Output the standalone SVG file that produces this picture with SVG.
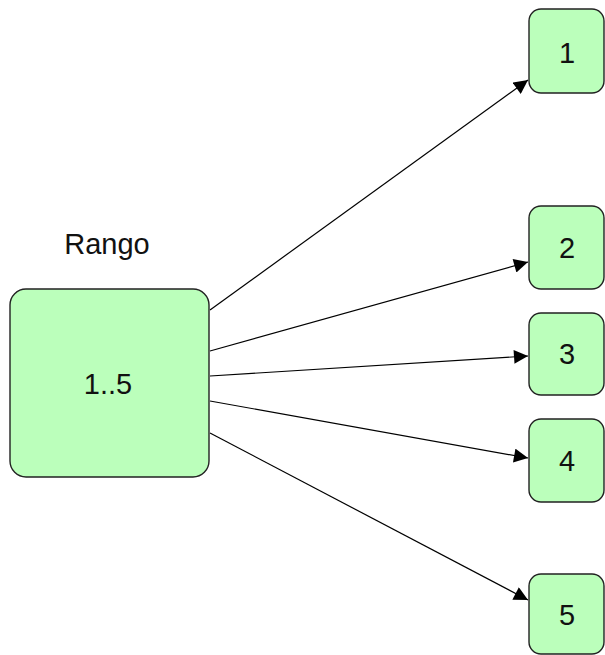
<svg xmlns="http://www.w3.org/2000/svg" width="605" height="655" viewBox="0 0 605 655">
<defs>
<style>
.box{fill:#bbffbb;stroke:#222;stroke-width:1.4}
.t{font-family:"Liberation Sans",Arial,sans-serif;font-size:29px;fill:#111;text-anchor:middle}
.c{stroke:#000;stroke-width:1.2;fill:none;marker-end:url(#ah)}
</style>
<marker id="ah" viewBox="0 0 10 10" refX="10" refY="5" markerWidth="15" markerHeight="14" markerUnits="userSpaceOnUse" orient="auto">
<path d="M0,0 L10,5 L0,10 z" fill="#000"/>
</marker>
</defs>
<rect width="605" height="655" fill="#fff"/>
<g id="connectors">
<line class="c" x1="210" y1="310" x2="528" y2="80"/>
<line class="c" x1="210" y1="351" x2="528" y2="262"/>
<line class="c" x1="210" y1="376" x2="528" y2="356"/>
<line class="c" x1="210" y1="401" x2="528" y2="458"/>
<line class="c" x1="210" y1="433" x2="528" y2="600"/>
</g>
<g id="rango">
<text class="t" x="107" y="254">Rango</text>
<rect class="box" x="10" y="289" width="199" height="188" rx="16"/>
<text class="t" x="108" y="394">1..5</text>
</g>
<g id="n1"><rect class="box" x="529" y="9" width="75" height="84" rx="12"/><text class="t" x="567" y="63">1</text></g>
<g id="n2"><rect class="box" x="529" y="206" width="75" height="83" rx="12"/><text class="t" x="567" y="258">2</text></g>
<g id="n3"><rect class="box" x="529" y="313" width="75" height="82" rx="12"/><text class="t" x="567" y="364">3</text></g>
<g id="n4"><rect class="box" x="529" y="419" width="75" height="83" rx="12"/><text class="t" x="567" y="471">4</text></g>
<g id="n5"><rect class="box" x="529" y="574" width="75" height="80" rx="12"/><text class="t" x="567" y="625">5</text></g>
</svg>
